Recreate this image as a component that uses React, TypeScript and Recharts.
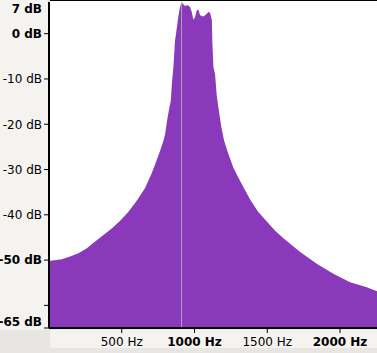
import React from 'react';
import { AreaChart, Area, XAxis, YAxis, ReferenceLine } from 'recharts';

// spectrum: frequency (Hz) and level (dB)
const freqHz = [
  0, 88, 145, 202, 260, 317, 372, 431, 489, 546, 603, 660, 702, 729, 763, 786, 798, 811, 827, 837,
  846, 855, 866, 873, 887, 896, 904, 912, 923, 935, 947, 958, 969, 981, 992, 1004, 1016, 1027, 1038,
  1061, 1073, 1084, 1095, 1107, 1119, 1123, 1130, 1141, 1153, 1164, 1183, 1204, 1231, 1267, 1308,
  1383, 1437, 1497, 1554, 1611, 1726, 1840, 1954, 2069, 2184, 2254,
];
const levelDb = [
  -50.2, -49.8, -49.2, -48.5, -47.4, -45.9, -44.5, -43.0, -41.3, -39.3, -36.9, -34.1, -31.1, -28.9,
  -25.9, -23.7, -22.2, -19.3, -16.3, -14.8, -10.4, -7.4, -1.5, 0, 3.4, 5.2, 6.3, 6.9, 6.5, 6.1, 6.3,
  6.2, 5.9, 4.8, 3.1, 3.7, 5.2, 5.3, 4.1, 3.8, 4.1, 4.4, 4.8, 4.6, 3.0, -2.2, -7.4, -8.9, -13.7,
  -16.3, -20.4, -23.7, -26.4, -29.6, -32.2, -36.7, -39.3, -41.5, -43.5, -45.2, -48.2, -50.8, -53.0,
  -54.9, -56.0, -56.9,
];

const xTicks = [500, 1000, 1500, 2000];
const xBoldTicks = [1000, 2000];
const yTicks = [7, 0, -10, -20, -30, -40, -50, -60, -65];
const yBoldTicks = [7, 0, -50, -65];
const yUnlabeled = [-60];
const cursorHz = 911;

const data = freqHz.map((hz, i) => ({ hz, db: levelDb[i] }));

const FONT = '"DejaVu Sans", sans-serif';
const AXIS_X = 49;

const YTick = (props: any) => {
  const { y, payload } = props;
  const v = payload.value;
  let ly = y;
  if (v === 7) ly = y + 6.3;
  if (v === -65) ly = y - 6.5;
  return (
    <g>
      {v !== 7 && <line x1={AXIS_X - 5} x2={AXIS_X} y1={y} y2={y} stroke="#000" />}
      {!yUnlabeled.includes(v) && (
        <text
          x={AXIS_X - 7}
          y={ly}
          dy={4.3}
          textAnchor="end"
          fontFamily={FONT}
          fontSize={12}
          fontWeight={yBoldTicks.includes(v) ? 'bold' : 'normal'}
          fill="#000"
        >
          {`${v} dB`}
        </text>
      )}
    </g>
  );
};

const XTick = (props: any) => {
  const { x, y, payload } = props;
  const v = payload.value;
  return (
    <text
      x={x}
      y={y}
      dy={11}
      textAnchor="middle"
      fontFamily={FONT}
      fontSize={12}
      fontWeight={xBoldTicks.includes(v) ? 'bold' : 'normal'}
      fill="#000"
    >
      {`${v} Hz`}
    </text>
  );
};

export default function App() {
  return (
    <div style={{ position: 'absolute', left: 0, top: 0, width: 377, height: 353, background: '#e8e6e2' }}>
      <div style={{ position: 'absolute', left: 0, top: 0, width: 48, height: 330, background: '#f4f3ef' }} />
      <div style={{ position: 'absolute', left: 50, top: 330, width: 327, height: 18, background: '#f4f3ef' }} />
      <div
        style={{
          position: 'absolute',
          left: 50,
          top: 0,
          width: 327,
          height: 328,
          background: '#fff',
          borderTop: '1px solid #000',
          boxSizing: 'border-box',
        }}
      />
      <div style={{ position: 'absolute', left: 0, top: 0 }}>
        <AreaChart width={377} height={353} data={data} margin={{ top: 2, right: 0, left: 0, bottom: 0 }}>
          <XAxis
            dataKey="hz"
            type="number"
            domain={[0, 2254]}
            ticks={xTicks}
            allowDataOverflow
            height={25}
            axisLine={{ stroke: '#000', strokeWidth: 2 }}
            tickLine={{ stroke: '#000' }}
            tickSize={5}
            tick={<XTick />}
            interval={0}
          />
          <YAxis
            type="number"
            domain={[-65, 7]}
            ticks={yTicks}
            allowDataOverflow
            width={49}
            axisLine={{ stroke: '#000', strokeWidth: 2 }}
            tickLine={false}
            tick={<YTick />}
            interval={0}
          />
          <Area
            type="linear"
            dataKey="db"
            stroke="none"
            fill="#8a39bb"
            fillOpacity={1}
            baseValue="dataMin"
            isAnimationActive={false}
          />
          <ReferenceLine x={cursorHz} stroke="#aca4b6" strokeWidth={1} />
        </AreaChart>
      </div>
    </div>
  );
}
